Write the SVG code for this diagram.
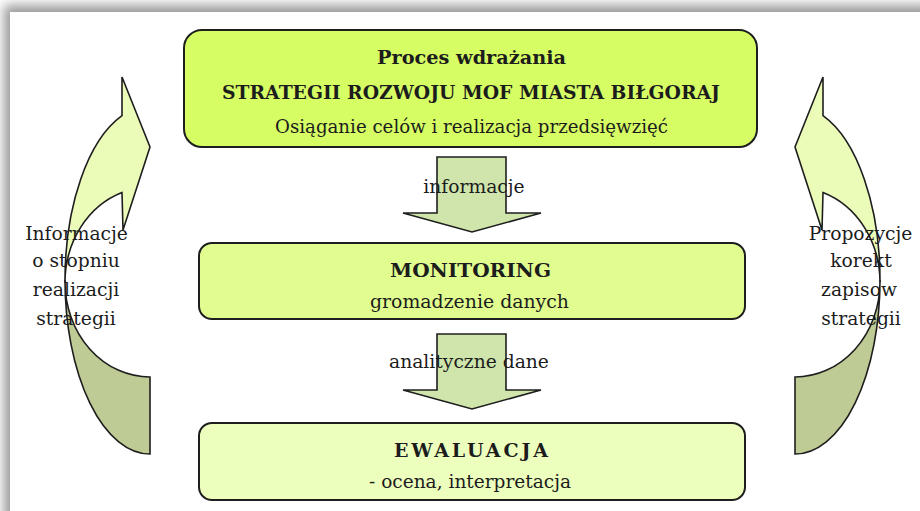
<svg xmlns="http://www.w3.org/2000/svg" width="920" height="511" viewBox="0 0 920 511">
  <defs>
    <filter id="frameShadow" x="-0.1" y="-0.1" width="1.2" height="1.2">
      <feGaussianBlur stdDeviation="6"/>
    </filter>
    <style>
      .box { stroke: #1e1e1e; stroke-width: 2; }
      .conn { stroke: #1e1e1e; stroke-width: 1.6; stroke-linejoin: miter; }
      .txt { font-family: "DejaVu Serif", "Liberation Serif", serif; font-size: 18.7px; fill: #1c1c1c; text-anchor: middle; }
      .b { font-weight: bold; font-size: 19px; }
    </style>
  </defs>

  <g id="frame">
    <rect x="0" y="0" width="920" height="511" fill="#ffffff"/>
    <rect x="4" y="5" width="940" height="530" fill="#000" opacity="0.4" filter="url(#frameShadow)"/>
    <rect x="10" y="12" width="920" height="510" fill="#ffffff"/>
  </g>

  <g id="connectors">
    <g id="arrow-left">
      <path class="conn" fill="#bfcb95" d="M150,454 A85,174 0 0,1 65,280 L65,282 A85,95 0 0,0 150,377 Z"/>
      <path class="conn" fill="#ebfcb9" d="M122,115.7 A85,174 0 0,0 65,280 L65,282 A85,95 0 0,1 122,192.6 L123,230 L150,147 L122,77 Z"/>
    </g>
    <g id="arrow-right" transform="translate(945,0) scale(-1,1)">
      <path class="conn" fill="#bfcb95" d="M150,454 A85,174 0 0,1 65,280 L65,282 A85,95 0 0,0 150,377 Z"/>
      <path class="conn" fill="#ebfcb9" d="M122,115.7 A85,174 0 0,0 65,280 L65,282 A85,95 0 0,1 122,192.6 L123,230 L150,147 L122,77 Z"/>
    </g>
    <polygon id="arrow-down-1" class="conn" fill="#cfe5ac" points="437,157 506,157 506,213 541,213 472,232 403,213 437,213"/>
    <polygon id="arrow-down-2" class="conn" fill="#cfe5ac" points="437,334 506,334 506,390 541,390 472,409 403,390 437,390"/>
  </g>

  <g id="node-wdrazanie">
    <rect class="box" x="184" y="30" width="573" height="117" rx="18" fill="#d6fd64"/>
    <text class="txt b" x="471.5" y="64" textLength="189" lengthAdjust="spacingAndGlyphs">Proces wdrażania</text>
    <text class="txt b" x="471" y="99" textLength="498" lengthAdjust="spacingAndGlyphs">STRATEGII ROZWOJU MOF MIASTA BIŁGORAJ</text>
    <text class="txt" x="471.5" y="133" textLength="393" lengthAdjust="spacingAndGlyphs">Osiąganie celów i realizacja przedsięwzięć</text>
  </g>

  <g id="node-monitoring">
    <rect class="box" x="199" y="243" width="546" height="76" rx="13" fill="#e1fd8f"/>
    <text class="txt b" x="470.5" y="277" textLength="161" lengthAdjust="spacingAndGlyphs">MONITORING</text>
    <text class="txt" x="469.5" y="308" textLength="199" lengthAdjust="spacingAndGlyphs">gromadzenie danych</text>
  </g>

  <g id="node-ewaluacja">
    <rect class="box" x="199" y="423" width="546" height="77" rx="13" fill="#edffbd"/>
    <text class="txt b" x="471" y="457" textLength="154" lengthAdjust="spacing">EWALUACJA</text>
    <text class="txt" x="470" y="488" textLength="202" lengthAdjust="spacingAndGlyphs">- ocena, interpretacja</text>
  </g>

  <g id="labels">
    <text class="txt" x="474" y="193">informacje</text>
    <text class="txt" x="469" y="368">analityczne dane</text>
    <text class="txt" x="76.5" y="240">Informacje</text>
    <text class="txt" x="76" y="267">o stopniu</text>
    <text class="txt" x="76" y="296">realizacji</text>
    <text class="txt" x="76" y="325">strategii</text>
    <text class="txt" x="860.5" y="240">Propozycje</text>
    <text class="txt" x="861" y="267">korekt</text>
    <text class="txt" x="859" y="296">zapisow</text>
    <text class="txt" x="861" y="325">strategii</text>
  </g>
</svg>
